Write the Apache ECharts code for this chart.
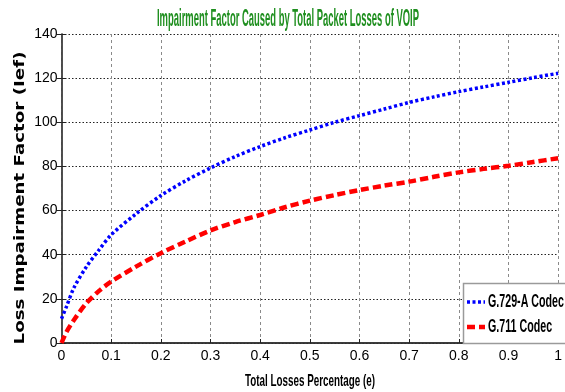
<!DOCTYPE html>
<html>
<head>
<meta charset="utf-8">
<script src="https://cdn.jsdelivr.net/npm/echarts@6/dist/echarts.min.js"></script>
<style>
  html, body { margin: 0; padding: 0; background: #fff; }
  #chart { width: 565px; height: 392px; }
</style>
</head>
<body>
<div id="chart"></div>
<script>
// Total loss percentage (e) sample points
var lossPct = [0, 0.01, 0.025, 0.05, 0.075, 0.1, 0.15, 0.2, 0.25, 0.3, 0.35, 0.4, 0.45, 0.5,
               0.55, 0.6, 0.65, 0.7, 0.75, 0.8, 0.85, 0.9, 0.95, 1.0];
// Impairment factor Ief for each codec
var g729a = [11, 16.5, 25, 34.5, 42, 49, 58.5, 66.8, 73.5, 79.3, 84.5, 89, 93, 96.5,
             100, 103, 106, 109, 111.5, 113.9, 116, 118.1, 120.2, 122.2];
var g711  = [0, 5, 10.4, 18, 23.5, 27.8, 34.6, 40.7, 46, 51, 54.8, 58, 61.5, 64.5,
             67, 69.3, 71.3, 73.1, 75.3, 77.3, 78.9, 80.3, 82, 83.7];
var seriesNames = ['G.729-A Codec', 'G.711 Codec'];
var titleText = 'Impairment Factor Caused by Total Packet Losses of VOIP';
var xName = 'Total Losses Percentage (e)';
var yName = 'Loss Impairment Factor (Ief)';

function pairs(xs, ys) {
  return xs.map(function (x, i) { return [x, ys[i]]; });
}

// Horizontal squeeze factor so a label spans a given width in a given font
var measureCtx = document.createElement('canvas').getContext('2d');
function fitScale(text, font, targetWidth) {
  measureCtx.font = font;
  return targetWidth / measureCtx.measureText(text).width;
}

var sans = '"Liberation Sans", Arial, sans-serif';
var titleFont = 'bold 23px ' + sans;
var xNameFont = 'bold 17px ' + sans;
var yNameFont = 'bold 14px "DejaVu Sans", sans-serif';
var legendFont = 'bold 18px ' + sans;

var blueLine = { color: '#0000ff', width: 3.5, type: [3, 2.5], cap: 'butt' };
var redLine  = { color: '#ff0000', width: 4.5, type: [8, 4], cap: 'butt' };

var legendScale = fitScale(seriesNames[0], legendFont, 76);

var chart = echarts.init(document.getElementById('chart'), null, { renderer: 'canvas' });
chart.setOption({
  backgroundColor: '#ffffff',
  animation: false,
  grid: { left: 61.5, right: 0, top: 34, bottom: 49 },
  xAxis: [{
    type: 'value', min: 0, max: 1, interval: 0.1,
    axisLine: { lineStyle: { color: '#222', width: 1.5 } },
    axisTick: { inside: true, length: 4, lineStyle: { color: '#222' } },
    axisLabel: {
      fontFamily: sans, fontSize: 14, color: '#000', margin: 6,
      formatter: function (v) { return String(+v.toFixed(1)); }
    },
    splitLine: { show: true, lineStyle: { color: '#8a8a8a', type: [3, 3], width: 1 } }
  }, {
    type: 'value', min: 0, max: 1, interval: 0.1, position: 'top',
    axisLine: { show: true, lineStyle: { color: '#333', width: 1.5 } },
    axisTick: { show: false }, axisLabel: { show: false }, splitLine: { show: false }
  }],
  yAxis: [{
    type: 'value', min: 0, max: 140, interval: 20,
    axisLine: { show: true, lineStyle: { color: '#888', width: 1.5 } },
    axisTick: { show: true, inside: true, length: 4, lineStyle: { color: '#222' } },
    axisLabel: { fontFamily: sans, fontSize: 14, color: '#000', margin: 4 },
    splitLine: { show: true, lineStyle: { color: '#222', type: [1.5, 2], width: 1 } }
  }, {
    type: 'value', min: 0, max: 140, interval: 20, position: 'right',
    axisLine: { show: true, lineStyle: { color: '#333', width: 1.5 } },
    axisTick: { show: true, inside: true, length: 5, lineStyle: { color: '#222' } },
    axisLabel: { show: false }, splitLine: { show: false }
  }],
  series: [{
    name: seriesNames[0], type: 'line', smooth: 0.3, symbol: 'none',
    data: pairs(lossPct, g729a), lineStyle: blueLine, itemStyle: { color: blueLine.color }
  }, {
    name: seriesNames[1], type: 'line', smooth: 0.3, symbol: 'none',
    data: pairs(lossPct, g711), lineStyle: redLine, itemStyle: { color: redLine.color }
  }],
  graphic: [
    // title, condensed to the narrow look
    { type: 'text', x: 288, y: 20, scaleX: fitScale(titleText, titleFont, 262),
      style: { text: titleText, font: titleFont, fill: '#1f8f1f', align: 'center', verticalAlign: 'middle' } },
    // axis names
    { type: 'text', x: 310, y: 381, scaleX: fitScale(xName, xNameFont, 130),
      style: { text: xName, font: xNameFont, fill: '#000', align: 'center', verticalAlign: 'middle' } },
    { type: 'text', x: 20, y: 198, rotation: Math.PI / 2, scaleX: fitScale(yName, yNameFont, 293),
      style: { text: yName, font: yNameFont, fill: '#000', align: 'center', verticalAlign: 'middle' } },
    // legend box
    { type: 'rect', shape: { x: 463.5, y: 283.5, width: 120, height: 60 }, z: 10,
      style: { fill: '#ffffff', stroke: '#9a9a9a', lineWidth: 1.5 } },
    { type: 'line', shape: { x1: 467, y1: 302, x2: 485, y2: 302 }, z: 11,
      style: { stroke: blueLine.color, lineWidth: blueLine.width, lineDash: blueLine.type } },
    { type: 'line', shape: { x1: 467, y1: 327, x2: 485, y2: 327 }, z: 11,
      style: { stroke: redLine.color, lineWidth: redLine.width, lineDash: redLine.type } },
    { type: 'text', x: 488, y: 302, scaleX: legendScale, z: 11,
      style: { text: seriesNames[0], font: legendFont, fill: '#000', align: 'left', verticalAlign: 'middle' } },
    { type: 'text', x: 488, y: 327, scaleX: legendScale, z: 11,
      style: { text: seriesNames[1], font: legendFont, fill: '#000', align: 'left', verticalAlign: 'middle' } }
  ]
});
</script>
</body>
</html>
